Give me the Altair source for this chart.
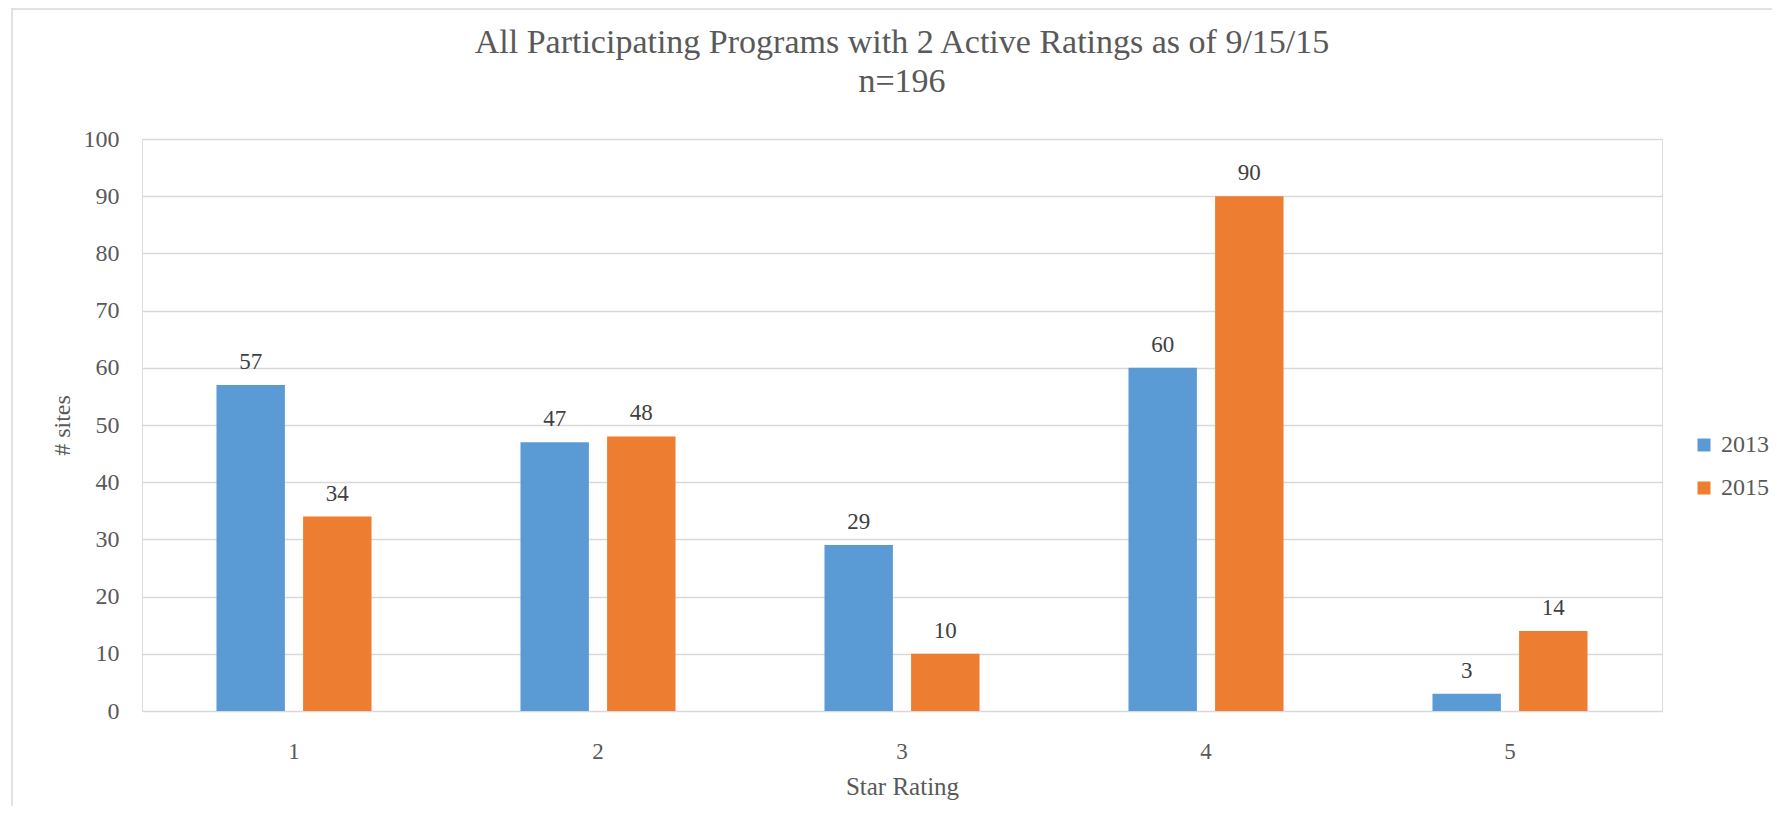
import altair as alt
import pandas as pd

# ---- data ----
star_ratings = ["1", "2", "3", "4", "5"]
years = ["2013", "2015"]
sites_2013 = [57, 47, 29, 60, 3]
sites_2015 = [34, 48, 10, 90, 14]
colors = ["#5B9BD5", "#ED7D31"]
y_ticks = [0, 10, 20, 30, 40, 50, 60, 70, 80, 90, 100]

rows = []
for i, s in enumerate(star_ratings):
    rows.append({"Star": s, "Year": "2013", "Sites": sites_2013[i]})
    rows.append({"Star": s, "Year": "2015", "Sites": sites_2015[i]})
df = pd.DataFrame(rows)

FONT = "Liberation Serif"
GRAY = "#595959"
W, H = 1520, 572

x_enc = alt.X(
    "Star:N",
    sort=star_ratings,
    scale=alt.Scale(paddingInner=0.49, paddingOuter=0.245),
    axis=alt.Axis(
        title="Star Rating",
        labelAngle=0,
        ticks=False,
        tickSize=0,
        domain=False,
        grid=False,
        labelPadding=29,
        labelFontSize=23,
        labelColor=GRAY,
        labelFont=FONT,
        titleFont=FONT,
        titleFontSize=25,
        titleFontWeight="normal",
        titleColor=GRAY,
        titleBaseline="alphabetic",
        titleY=83,
    ),
)
xoff_enc = alt.XOffset(
    "Year:N", sort=years, scale=alt.Scale(paddingInner=0.21, paddingOuter=0)
)
y_enc = alt.Y(
    "Sites:Q",
    scale=alt.Scale(domain=[0, 100], nice=False),
    axis=alt.Axis(
        title="# sites",
        values=y_ticks,
        ticks=False,
        tickSize=0,
        domain=False,
        grid=True,
        gridColor="#d9d9d9",
        gridWidth=1.3,
        labelPadding=23,
        labelFontSize=24,
        labelColor=GRAY,
        labelFont=FONT,
        titleFont=FONT,
        titleFontSize=24,
        titleFontWeight="normal",
        titleColor=GRAY,
        titleBaseline="alphabetic",
        titleX=-73,
        titleY=H / 2,
        titleAngle=270,
    ),
)

bars = alt.Chart(df).mark_bar().encode(
    x=x_enc,
    xOffset=xoff_enc,
    y=y_enc,
    color=alt.Color(
        "Year:N",
        sort=years,
        scale=alt.Scale(domain=years, range=colors),
        legend=alt.Legend(
            title=None,
            orient="none",
            legendX=1550,
            legendY=294,
            symbolType="square",
            symbolSize=169,
            symbolStrokeWidth=0,
            labelFont=FONT,
            labelFontSize=24,
            labelColor=GRAY,
            labelOffset=5,
            rowPadding=19,
            padding=0,
        ),
    ),
)

labels = alt.Chart(df).mark_text(
    font=FONT, fontSize=23, color="#404040", baseline="alphabetic", dy=-16
).encode(
    x=alt.X("Star:N", sort=star_ratings),
    xOffset=alt.XOffset("Year:N", sort=years),
    y=alt.Y("Sites:Q"),
    text=alt.Text("Sites:Q"),
)

frame_df = pd.DataFrame({"k": [0]})
frame_left = alt.Chart(frame_df).mark_rule(color="#d9d9d9", strokeWidth=1.5).encode(
    x=alt.value(-130), y=alt.value(-131), y2=alt.value(H + 150)
)
frame_top = alt.Chart(frame_df).mark_rule(color="#d9d9d9", strokeWidth=1.5).encode(
    x=alt.value(-130), x2=alt.value(W + 150), y=alt.value(-130)
)

chart = (
    alt.layer(frame_left, frame_top, bars, labels)
    .properties(
        width=W,
        height=H,
        autosize=alt.AutoSizeParams(type="none"),
        padding={"left": 134, "top": 131, "right": 110, "bottom": 95},
        title=alt.TitleParams(
            text=[
                "All Participating Programs with 2 Active Ratings as of 9/15/15",
                "n=196",
            ],
            font=FONT,
            fontSize=34,
            fontWeight="normal",
            color=GRAY,
            anchor="middle",
            lineHeight=39,
            offset=22,
            dy=114,
        ),
    )
    .configure_view(stroke=None)
    .configure_title(font=FONT, fontWeight="normal", color=GRAY)
    .configure(background="white")
)

chart.save("out.html", embed_options={"renderer": "svg", "actions": False})
